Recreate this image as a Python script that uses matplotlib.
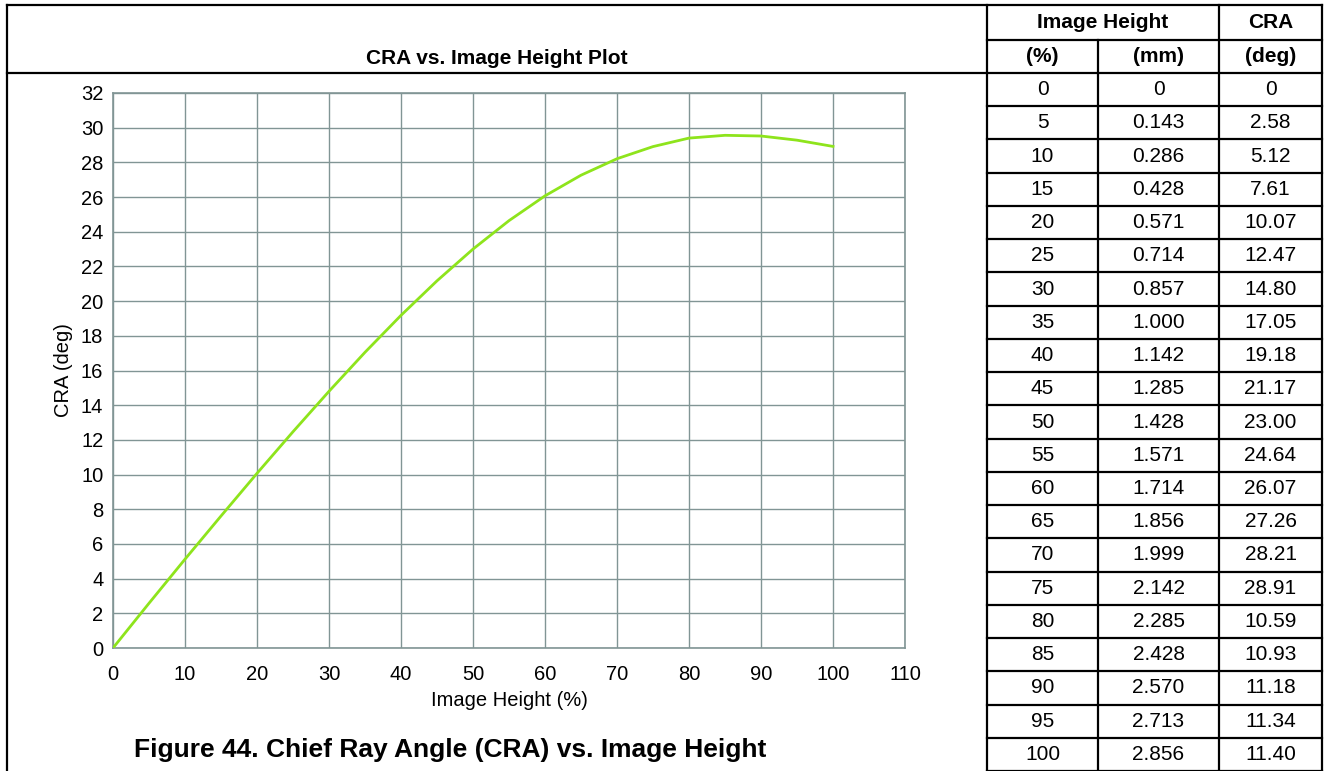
import matplotlib
matplotlib.use("Agg")
import matplotlib.pyplot as plt

plt.rcParams["font.family"] = ["Liberation Sans", "DejaVu Sans"]

# table columns
height_pct = [0, 5, 10, 15, 20, 25, 30, 35, 40, 45, 50, 55, 60, 65, 70, 75, 80, 85, 90, 95, 100]
height_mm = ["0", "0.143", "0.286", "0.428", "0.571", "0.714", "0.857", "1.000", "1.142",
             "1.285", "1.428", "1.571", "1.714", "1.856", "1.999", "2.142", "2.285",
             "2.428", "2.570", "2.713", "2.856"]
cra_text = ["0", "2.58", "5.12", "7.61", "10.07", "12.47", "14.80", "17.05", "19.18",
            "21.17", "23.00", "24.64", "26.07", "27.26", "28.21", "28.91", "10.59",
            "10.93", "11.18", "11.34", "11.40"]

# plotted curve (deg)
cra_curve = [0, 2.58, 5.12, 7.61, 10.07, 12.47, 14.80, 17.05, 19.18, 21.17, 23.00,
             24.64, 26.07, 27.26, 28.21, 28.91, 29.40, 29.56, 29.52, 29.28, 28.92]

x_ticks = list(range(0, 111, 10))
y_ticks = list(range(0, 33, 2))

W, H = 1325, 771
fig = plt.figure(figsize=(W / 100, H / 100), dpi=100)

grid_c = "#819595"
ax = fig.add_axes([113 / W, (H - 648) / H, (905 - 113) / W, (648 - 93) / H])
ax.plot(height_pct, cra_curve, color="#8ee41c", lw=2.0, zorder=3)
ax.set_xlim(0, 110)
ax.set_ylim(0, 32)
ax.set_xticks(x_ticks)
ax.set_yticks(y_ticks)
ax.grid(True, color=grid_c, lw=1.0)
for s in ax.spines.values():
    s.set_color(grid_c)
    s.set_linewidth(1.2)
ax.tick_params(axis="both", length=0, labelsize=14.5)
ax.tick_params(axis="x", pad=12)
ax.tick_params(axis="y", pad=7)
ax.set_xlabel("Image Height (%)", fontsize=14.5, labelpad=5)
ax.set_ylabel("CRA (deg)", fontsize=14.5, labelpad=6)

# frame, headings and data table drawn in pixel coordinates
ov = fig.add_axes([0, 0, 1, 1], zorder=5)
ov.set_xlim(0, W)
ov.set_ylim(H, 0)
ov.axis("off")
ov.patch.set_alpha(0)

lw = 1.6
col_x = [987, 1098, 1219, 1322]
ov.plot([7, 1322], [5, 5], color="k", lw=lw)
ov.plot([7, 1322], [73, 73], color="k", lw=lw)
ov.plot([7, 7], [5, H], color="k", lw=lw)
ov.plot([col_x[0], col_x[0]], [5, H], color="k", lw=lw)
ov.plot([col_x[2], col_x[2]], [5, H], color="k", lw=lw)
ov.plot([col_x[3], col_x[3]], [5, H], color="k", lw=lw)
ov.plot([col_x[1], col_x[1]], [40, H], color="k", lw=lw)
ov.plot([col_x[0], col_x[3]], [40, 40], color="k", lw=lw)

row_h = (H - 73) / len(height_pct)
for i in range(1, len(height_pct) + 1):
    y = 73 + i * row_h
    ov.plot([col_x[0], col_x[3]], [y, y], color="k", lw=lw)

ov.text(497, 59, "CRA vs. Image Height Plot", ha="center", va="center",
        fontsize=15, fontweight="bold")
ov.text(450, 750, "Figure 44. Chief Ray Angle (CRA) vs. Image Height", ha="center",
        va="center", fontsize=19, fontweight="bold")

centers = [(col_x[i] + col_x[i + 1]) / 2 for i in range(3)]
ov.text((col_x[0] + col_x[2]) / 2, 23, "Image Height", ha="center", va="center",
        fontsize=15, fontweight="bold")
ov.text(centers[2], 23, "CRA", ha="center", va="center", fontsize=15, fontweight="bold")
for cx, lab in zip(centers, ["(%)", "(mm)", "(deg)"]):
    ov.text(cx, 57, lab, ha="center", va="center", fontsize=15, fontweight="bold")

for i, (p, mm, c) in enumerate(zip(height_pct, height_mm, cra_text)):
    y = 73 + (i + 0.5) * row_h
    for cx, lab in zip(centers, [str(p), mm, c]):
        ov.text(cx, y, lab, ha="center", va="center", fontsize=15)

fig.savefig("out.png", dpi=100)
